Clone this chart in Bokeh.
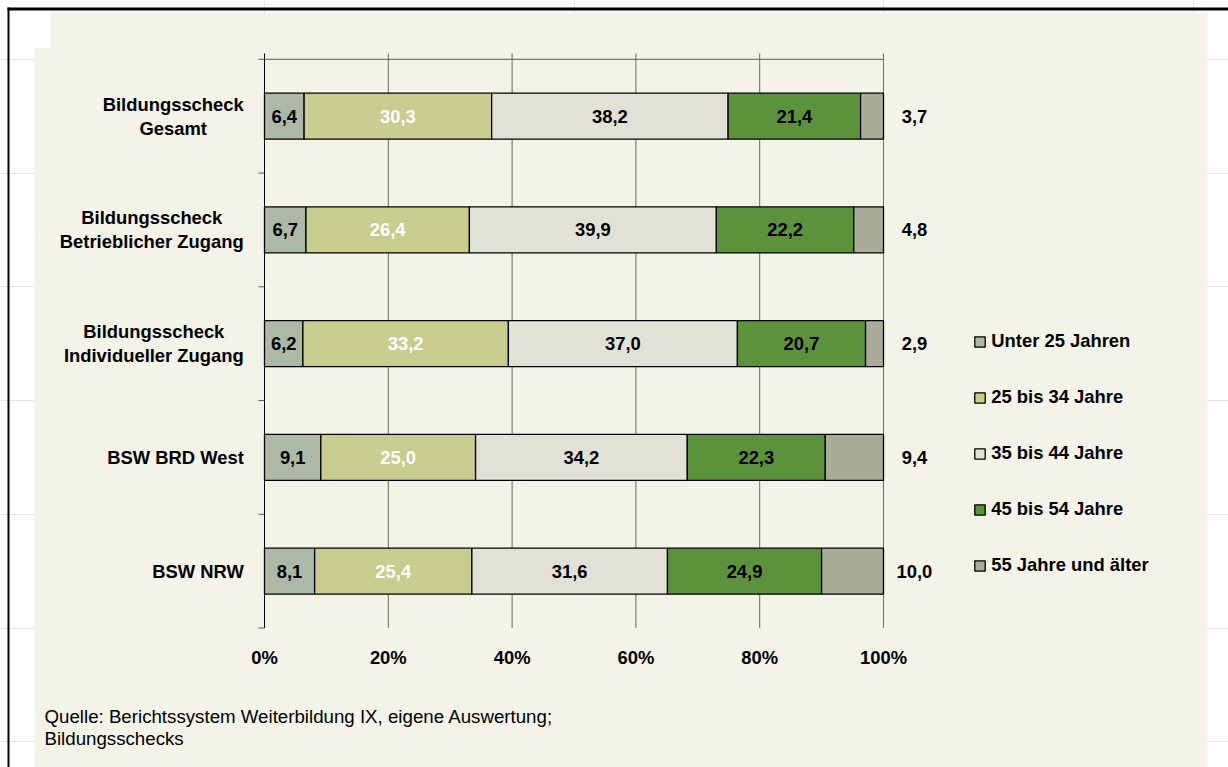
from bokeh.plotting import figure
from bokeh.models import Range1d, ColumnDataSource
from bokeh.core.properties import value
from bokeh.embed import file_html
from bokeh.resources import INLINE

# ---------------- data ----------------
category_lines = [
    ["Bildungsscheck", "Gesamt"],
    ["Bildungsscheck", "Betrieblicher Zugang"],
    ["Bildungsscheck", "Individueller Zugang"],
    ["BSW BRD West"],
    ["BSW NRW"],
]
series_names = ["Unter 25 Jahren", "25 bis 34 Jahre", "35 bis 44 Jahre",
                "45 bis 54 Jahre", "55 Jahre und älter"]
unter_25 = [6.4, 6.7, 6.2, 9.1, 8.1]
j25_34 = [30.3, 26.4, 33.2, 25.0, 25.4]
j35_44 = [38.2, 39.9, 37.0, 34.2, 31.6]
j45_54 = [21.4, 22.2, 20.7, 22.3, 24.9]
j55_plus = [3.7, 4.8, 2.9, 9.4, 10.0]
x_ticks = [0, 20, 40, 60, 80, 100]
x_tick_labels = ["0%", "20%", "40%", "60%", "80%", "100%"]
source_lines = ["Quelle: Berichtssystem Weiterbildung IX, eigene Auswertung;",
                "Bildungsschecks"]

# ---------------- styling / layout ----------------
colors = ["#AEB8A6", "#C8CC8E", "#E1E2D5", "#5B923B", "#ABAB99"]
label_colors = ["black", "white", "black", "black"]
CREAM = "#F3F3E7"
FONT = value("Liberation Sans")
FS = 18.4
FSS = f"{FS}px"

W, H = 1228, 767
X0, XS = 264.0, 6.19      # px of 0 %, px per %
Y0, YS = 58.8, 113.75     # px of first band top, px per band


def px2x(px):
    return (px - X0) / XS


def px2y(py):
    return (py - Y0) / YS


# Arial bold widths (per 1000 em) for centring two-line labels
AW = {" ": 278, "B": 722, "G": 778, "I": 278, "Z": 611, "a": 556, "b": 611,
      "c": 556, "d": 611, "e": 556, "g": 611, "h": 611, "i": 278, "k": 556,
      "l": 278, "m": 889, "n": 611, "r": 389, "s": 556, "t": 333, "u": 611,
      "v": 556}


def text_w(s, size=FS):
    return sum(AW.get(ch, 600) for ch in s) * size / 1000.0


n = len(category_lines)
ypos = [i + 0.5 for i in range(n)]
BAR_H = 46 / YS

p = figure(width=W, height=H,
           x_range=Range1d(px2x(0), px2x(W)),
           y_range=Range1d(px2y(H), px2y(0)),
           x_axis_location=None, y_axis_location=None,
           toolbar_location=None, output_backend="svg",
           min_border=0, outline_line_color=None,
           background_fill_color="white", border_fill_color="white")

# background panel (cream with notch) and black frame lines
p.quad(left=[px2x(50), px2x(34)], right=[px2x(1207), px2x(50)],
       top=[px2y(12), px2y(48)], bottom=[px2y(H), px2y(H)],
       fill_color=CREAM, line_color=None)
p.quad(left=[px2x(7), px2x(7)], right=[px2x(W), px2x(9)],
       top=[px2y(7), px2y(7)], bottom=[px2y(10), px2y(H)],
       fill_color="black", line_color=None)

# gridlines
grid_top = px2y(53)
p.segment(x0=x_ticks[1:], x1=x_ticks[1:], y0=[grid_top] * 5, y1=[n] * 5,
          line_color="#6A6A6A", line_width=1)
# category axis
p.segment(x0=[0], x1=[0], y0=[grid_top], y1=[n], line_color="black", line_width=1)
bounds = list(range(n + 1))
p.segment(x0=[px2x(258)] * len(bounds), x1=[100] + [0] * n,
          y0=bounds, y1=bounds, line_color="#5A5A5A", line_width=1)

# stacked bars
keys = ["s0", "s1", "s2", "s3", "s4"]
src = ColumnDataSource(dict(y=ypos, s0=unter_25, s1=j25_34, s2=j35_44,
                            s3=j45_54, s4=j55_plus))
p.hbar_stack(keys, y="y", height=BAR_H, fill_color=colors, line_color="black",
             line_width=1.3, source=src, legend_label=series_names)

# value labels
series = [unter_25, j25_34, j35_44, j45_54, j55_plus]
lx, ly, lt, lc = [], [], [], []
for i in range(n):
    left = 0.0
    for k, s in enumerate(series):
        v = s[i]
        txt = f"{v:.1f}".replace(".", ",")
        if k < 4:
            lx.append(left + v / 2)
            lc.append(label_colors[k])
        else:
            lx.append(left + v + 5.0)
            lc.append("black")
        ly.append(ypos[i])
        lt.append(txt)
        left += v
p.text(x="x", y="y", text="t", text_color="c",
       source=ColumnDataSource(dict(x=lx, y=ly, t=lt, c=lc)),
       text_font=FONT, text_font_style="bold", text_font_size=FSS,
       text_align="center", text_baseline="middle")

# category labels
RIGHT_PX = 243.3
cx, cy, ct = [], [], []
sx, sy, st = [], [], []
for i, lines in enumerate(category_lines):
    if len(lines) == 1:
        sx.append(px2x(RIGHT_PX))
        sy.append(ypos[i])
        st.append(lines[0])
    else:
        w = max(text_w(s) for s in lines)
        c = RIGHT_PX - w / 2
        for j, s in enumerate(lines):
            cx.append(px2x(c))
            cy.append(ypos[i] + (-12 if j == 0 else 12) / YS)
            ct.append(s)
p.text(x=cx, y=cy, text=ct, text_font=FONT, text_font_style="bold",
       text_font_size=FSS, text_align="center", text_baseline="middle",
       text_color="black")
p.text(x=sx, y=sy, text=st, text_font=FONT, text_font_style="bold",
       text_font_size=FSS, text_align="right", text_baseline="middle",
       text_color="black")

# x tick labels
p.text(x=x_ticks, y=[px2y(657)] * len(x_ticks), text=x_tick_labels,
       text_font=FONT, text_font_style="bold", text_font_size=FSS,
       text_align="center", text_baseline="middle", text_color="black")

# source note
p.text(x=[px2x(44)] * 2, y=[px2y(716), px2y(738)], text=source_lines,
       text_font=FONT, text_font_size="18.7px", text_align="left",
       text_baseline="middle", text_color="black")

# legend
lg = p.legend[0]
lg.location = (973.3, 191)
lg.label_text_font = "Liberation Sans"
lg.label_text_font_style = "bold"
lg.label_text_font_size = FSS
lg.label_text_color = "black"
lg.glyph_width = 13
lg.glyph_height = 13
lg.label_standoff = 5
lg.label_height = 22
lg.spacing = 34
lg.padding = 0
lg.margin = 0
lg.border_line_alpha = 0
lg.background_fill_alpha = 0

open("out.html", "w").write(file_html(p, INLINE))
